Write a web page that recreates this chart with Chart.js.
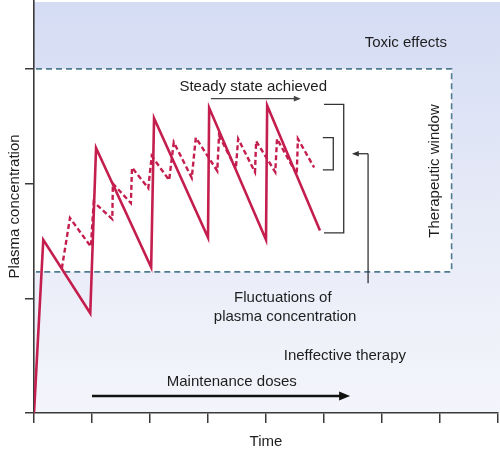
<!DOCTYPE html>
<html>
<head>
<meta charset="utf-8">
<script src="https://cdn.jsdelivr.net/npm/chart.js@4.4.0/dist/chart.umd.min.js"></script>
<style>
  body { margin: 0; background: #fff; }
  #wrap { width: 500px; height: 451px; }
</style>
</head>
<body>
<div id="wrap"><canvas id="pk-chart"></canvas></div>
<script>
// large doses, given once per interval (solid line)
const bigDoseTime = [0, 0.16, 0.97, 1.07, 2.02, 2.07, 3.0, 3.02, 4.0, 4.02, 4.93];
const bigDoseConc = [0, 1.51, 0.87, 2.31, 1.27, 2.57, 1.53, 2.66, 1.51, 2.68, 1.59];

// smaller doses, given more often (dashed line)
const smallDoseTime = [0.48, 0.62, 0.98, 1.03, 1.35, 1.36, 1.67, 1.69, 1.97, 2.03, 2.33, 2.41, 2.72, 2.79,
                       3.16, 3.19, 3.48, 3.52, 3.81, 3.83, 4.16, 4.19, 4.53, 4.55, 4.83];
const smallDoseConc = [1.26, 1.70, 1.45, 1.84, 1.69, 2.00, 1.83, 2.14, 1.96, 2.24, 2.03, 2.36, 2.05, 2.40,
                       2.11, 2.42, 2.13, 2.39, 2.10, 2.37, 2.10, 2.39, 2.08, 2.39, 2.14];

const timeTicks = [0, 1, 2, 3, 4, 5, 6, 7, 8];
const concTicks = [0, 1, 2, 3];

// therapeutic window
const windowLow = 1.23;
const windowHigh = 3.0;
const windowEnd = 7.2;

const RED = '#c41e4e';
const INK = '#1e1e1e';
const AXIS = '#3a3a3a';
const FAMILY = '"Liberation Sans", Arial, sans-serif';
const FONT = '15px ' + FAMILY;

function toPoints(xs, ys) {
  return xs.map(function (t, i) { return { x: t, y: ys[i] }; });
}

function arrow(ctx, x1, y1, x2, y2, width, head) {
  const ang = Math.atan2(y2 - y1, x2 - x1);
  ctx.lineWidth = width;
  ctx.beginPath();
  ctx.moveTo(x1, y1);
  ctx.lineTo(x2 - Math.cos(ang) * head * 0.8, y2 - Math.sin(ang) * head * 0.8);
  ctx.stroke();
  ctx.beginPath();
  ctx.moveTo(x2, y2);
  ctx.lineTo(x2 - head * Math.cos(ang) + head * 0.4 * Math.sin(ang), y2 - head * Math.sin(ang) - head * 0.4 * Math.cos(ang));
  ctx.lineTo(x2 - head * Math.cos(ang) - head * 0.4 * Math.sin(ang), y2 - head * Math.sin(ang) + head * 0.4 * Math.cos(ang));
  ctx.closePath();
  ctx.fill();
}

// backgrounds: blue zones outside the window, white inside
const backdrop = {
  id: 'backdrop',
  beforeDraw(chart) {
    const { ctx, chartArea: a, scales: { x, y } } = chart;
    ctx.save();
    const g = ctx.createLinearGradient(0, a.top, 0, a.bottom);
    g.addColorStop(0, '#d4dcf4');
    g.addColorStop(0.5, '#e6eaf7');
    g.addColorStop(1, '#f4f5fb');
    ctx.fillStyle = g;
    ctx.fillRect(a.left, a.top + 2, chart.width - a.left, a.bottom - a.top - 2);
    ctx.fillStyle = '#ffffff';
    const top = y.getPixelForValue(windowHigh), bot = y.getPixelForValue(windowLow);
    ctx.fillRect(a.left, top, x.getPixelForValue(windowEnd) - a.left, bot - top);
    ctx.restore();
  },
  beforeDatasetsDraw(chart) {
    const { ctx, chartArea: a, scales: { x, y } } = chart;
    const top = y.getPixelForValue(windowHigh), bot = y.getPixelForValue(windowLow);
    const right = x.getPixelForValue(windowEnd);
    ctx.save();
    ctx.strokeStyle = '#4f7b91';
    ctx.lineWidth = 1.6;
    ctx.setLineDash([6, 4]);
    ctx.beginPath();
    ctx.moveTo(a.left + 2, top);
    ctx.lineTo(right, top);
    ctx.lineTo(right, bot);
    ctx.lineTo(a.left + 2, bot);
    ctx.stroke();
    ctx.restore();
  },
  afterDraw(chart) {
    const { ctx, scales: { x, y } } = chart;
    const px = function (v) { return x.getPixelForValue(v); };
    const py = function (v) { return y.getPixelForValue(v); };
    ctx.save();
    ctx.font = FONT;
    ctx.fillStyle = INK;
    ctx.textAlign = 'center';
    ctx.textBaseline = 'middle';
    ctx.fillText('Toxic effects', px(6.41), py(3.23));
    ctx.fillText('Steady state achieved', px(3.78), py(2.84));
    ctx.fillText('Fluctuations of', px(4.29), py(1.0));
    ctx.fillText('plasma concentration', px(4.33), py(0.835));
    ctx.fillText('Ineffective therapy', px(5.36), py(0.50));
    ctx.fillText('Maintenance doses', px(3.41), py(0.27));

    ctx.save();
    ctx.translate(px(6.91), py(2.11));
    ctx.rotate(-Math.PI / 2);
    ctx.fillText('Therapeutic window', 0, 0);
    ctx.restore();

    // brackets
    ctx.strokeStyle = '#333';
    ctx.lineWidth = 1.3;
    ctx.beginPath();
    ctx.moveTo(px(5.0), py(2.69));
    ctx.lineTo(px(5.34), py(2.69));
    ctx.lineTo(px(5.34), py(1.57));
    ctx.lineTo(px(5.0), py(1.57));
    ctx.stroke();
    ctx.beginPath();
    ctx.moveTo(px(4.98), py(2.40));
    ctx.lineTo(px(5.16), py(2.40));
    ctx.lineTo(px(5.16), py(2.12));
    ctx.lineTo(px(4.98), py(2.12));
    ctx.stroke();

    // pointer from the fluctuation label
    ctx.fillStyle = '#333';
    ctx.lineWidth = 1.3;
    ctx.beginPath();
    ctx.moveTo(px(5.76), py(1.13));
    ctx.lineTo(px(5.76), py(2.26));
    ctx.stroke();
    arrow(ctx, px(5.76), py(2.26), px(5.48), py(2.26), 1.3, 7);

    // steady state arrow
    ctx.strokeStyle = '#444';
    ctx.fillStyle = '#444';
    arrow(ctx, px(3.05), py(2.74), px(4.6), py(2.74), 1.4, 7);

    // maintenance doses arrow
    ctx.strokeStyle = '#111';
    ctx.fillStyle = '#111';
    arrow(ctx, px(1.0), py(0.148), px(5.45), py(0.148), 2.6, 11);
    ctx.restore();
  }
};

const ctx = document.getElementById('pk-chart');

new Chart(ctx, {
  type: 'line',
  data: {
    datasets: [{
      label: 'Large doses',
      data: toPoints(bigDoseTime, bigDoseConc),
      borderColor: RED,
      borderWidth: 2.6,
      borderJoinStyle: 'miter',
      pointRadius: 0,
      tension: 0
    }, {
      label: 'Small doses',
      data: toPoints(smallDoseTime, smallDoseConc),
      borderColor: RED,
      borderWidth: 2.4,
      borderDash: [5, 3],
      borderJoinStyle: 'miter',
      pointRadius: 0,
      tension: 0
    }]
  },
  options: {
    responsive: true,
    maintainAspectRatio: false,
    animation: false,
    layout: { padding: { top: 0, right: 2, bottom: 0, left: 0 } },
    plugins: {
      legend: { display: false },
      tooltip: { enabled: false }
    },
    scales: {
      x: {
        type: 'linear',
        min: timeTicks[0],
        max: timeTicks[timeTicks.length - 1],
        afterBuildTicks: function (s) { s.ticks = timeTicks.map(function (v) { return { value: v }; }); },
        afterFit: function (s) { s.height = 38; },
        ticks: { display: false },
        grid: { drawOnChartArea: false, color: AXIS, lineWidth: 1.5, tickLength: 10 },
        border: { color: AXIS, width: 1.6 },
        title: { display: true, text: 'Time', color: INK, font: { size: 15, family: FAMILY }, padding: { top: 0, bottom: 0 } }
      },
      y: {
        min: 0,
        max: 3.6,
        afterBuildTicks: function (s) { s.ticks = concTicks.map(function (v) { return { value: v }; }); },
        afterFit: function (s) { s.width = 34; },
        ticks: { display: false },
        grid: { drawOnChartArea: false, color: AXIS, lineWidth: 1.5, tickLength: 9 },
        border: { color: AXIS, width: 1.6 },
        title: { display: true, text: 'Plasma concentration', color: INK, font: { size: 15, family: FAMILY }, padding: { top: 6, bottom: 0 } }
      }
    }
  },
  plugins: [backdrop]
});
</script>
</body>
</html>
